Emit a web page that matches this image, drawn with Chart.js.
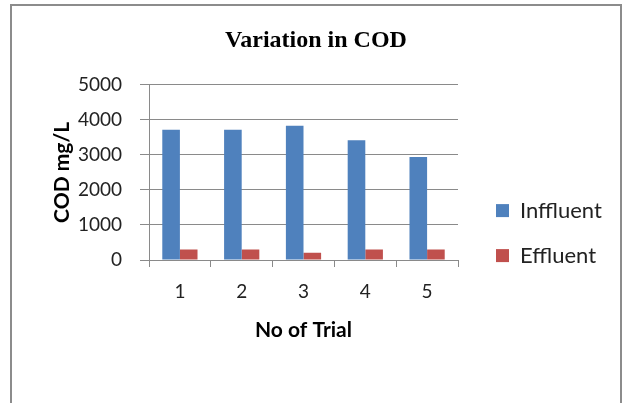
<!DOCTYPE html>
<html>
<head>
<meta charset="utf-8">
<script src="https://cdn.jsdelivr.net/npm/chart.js@4"></script>
<style>
html,body{margin:0;padding:0;background:#fff;}
#wrap{position:relative;width:628px;height:403px;}
</style>
</head>
<body>
<div id="wrap"><canvas id="c" width="628" height="403"></canvas></div>
<script>
const categories = ['1', '2', '3', '4', '5'];
const influent = [3720, 3720, 3830, 3420, 2940];
const effluent = [300, 300, 210, 300, 300];
const yTicks = [0, 1000, 2000, 3000, 4000, 5000];

const LEGEND_SHIFT = 15;
const TITLE_SHIFT = -6;
const Y_AXIS_WIDTH = 99;

const frame = {
  id: 'frame',
  beforeDraw(chart) {
    const ctx = chart.ctx;
    ctx.save();
    ctx.fillStyle = '#fff';
    ctx.fillRect(0, 0, chart.width, chart.height);
    ctx.strokeStyle = '#8c8c8c';
    ctx.lineWidth = 2;
    ctx.beginPath();
    ctx.moveTo(11, 410);
    ctx.lineTo(11, 5);
    ctx.lineTo(621, 5);
    ctx.lineTo(621, 410);
    ctx.stroke();
    ctx.restore();
  }
};

const nudge = {
  id: 'nudge',
  afterLayout(chart) {
    const lg = chart.legend;
    if (lg) { lg.left += LEGEND_SHIFT; lg.right += LEGEND_SHIFT; }
    const tb = chart.titleBlock;
    if (tb) { tb.left += TITLE_SHIFT; tb.right += TITLE_SHIFT; }
  }
};

new Chart(document.getElementById('c'), {
  type: 'bar',
  data: {
    labels: categories,
    datasets: [
      { label: 'Inffluent', data: influent, backgroundColor: '#4F81BD' },
      { label: 'Effluent', data: effluent, backgroundColor: '#C0504D' }
    ]
  },
  options: {
    responsive: false,
    animation: false,
    datasets: { bar: { categoryPercentage: 0.57, barPercentage: 1.0 } },
    layout: { padding: { left: 50, right: 34, top: 26, bottom: 60 } },
    plugins: {
      title: {
        display: true,
        text: 'Variation in COD',
        color: '#000',
        font: { family: '"Liberation Serif", serif', size: 24, weight: 'bold' },
        padding: { top: 0, bottom: 30 }
      },
      legend: {
        position: 'right',
        title: { display: true, text: ' ', font: { size: 1 }, padding: { top: 0, bottom: 96 } },
        labels: {
          color: '#222',
          font: { family: 'Lato, sans-serif', size: 22 },
          boxWidth: 13,
          boxHeight: 13,
          padding: 23
        }
      },
      tooltip: { enabled: false }
    },
    scales: {
      x: {
        offset: true,
        grid: { display: true, drawOnChartArea: false, color: '#8a8a8a', tickLength: 7 },
        border: { color: '#8a8a8a' },
        ticks: { color: '#222', font: { family: 'Lato, sans-serif', size: 19 }, padding: 13 },
        title: {
          display: true, text: 'No of Trial', color: '#000',
          font: { family: 'Lato, sans-serif', size: 21, weight: 'bold' },
          padding: { top: 2, bottom: 0 }
        }
      },
      y: {
        min: 0, max: 5000,
        afterBuildTicks(scale) { scale.ticks = yTicks.map(v => ({ value: v })); },
        afterFit(scale) { scale.width = Y_AXIS_WIDTH; },
        grid: { color: '#8a8a8a', tickLength: 9 },
        border: { color: '#8a8a8a' },
        ticks: { color: '#222', font: { family: 'Lato, sans-serif', size: 19 }, padding: 18,
                 callback: v => String(v) },
        title: {
          display: true, text: 'COD mg/L', color: '#000',
          font: { family: 'Lato, sans-serif', size: 21, weight: 'bold' },
          padding: { top: 0, bottom: 6 }
        }
      }
    }
  },
  plugins: [frame, nudge]
});
</script>
</body>
</html>
